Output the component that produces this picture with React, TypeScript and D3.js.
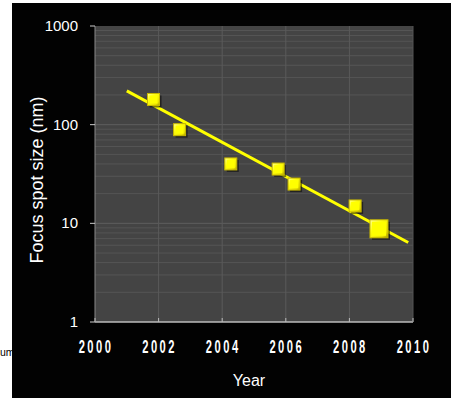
import React from "react";
import * as d3 from "d3";

// measured points (year, focus spot size in nm)
const years = [2001.84, 2002.66, 2004.27, 2005.76, 2006.26, 2008.18, 2008.93];
const spotSizes = [180, 89, 40, 35.5, 25, 15, 8.8];
const markerSizes = [12, 12, 12, 12, 12, 12, 18];

// fitted trend line end points
const trendYears = [2001, 2009.85];
const trendSizes = [220, 6.4];

const xTicks = [2000, 2002, 2004, 2006, 2008, 2010];
const yTicks = [1, 10, 100, 1000];

const W = 451;
const H = 398;

export default function App() {
  const x = d3.scaleLinear().domain([2000, 2010]).range([95, 413]);
  const y = d3.scaleLog().domain([1, 1000]).range([322, 26]);

  const minor: number[] = [];
  [1, 10, 100].forEach((d) => {
    for (let k = 2; k <= 9; k++) minor.push(d * k);
  });

  const line = d3
    .line<number>()
    .x((_, i) => x(trendYears[i]))
    .y((d) => y(d));

  const pts = years.map((yr, i) => ({ yr, v: spotSizes[i], s: markerSizes[i] }));

  return (
    <svg
      width={W}
      height={H}
      style={{ position: "absolute", left: 0, top: 0, background: "#fff" }}
    >
      <defs>
        <linearGradient id="bevel" x1="0" y1="0" x2="1" y2="1">
          <stop offset="0" stopColor="#ffffa0" />
          <stop offset="0.35" stopColor="#ffff10" />
          <stop offset="0.8" stopColor="#e8e000" />
          <stop offset="1" stopColor="#a89a00" />
        </linearGradient>
      </defs>
      <text x={0} y={356} fontFamily="Arial, Liberation Sans" fontSize={10.5} fill="#000">
        um
      </text>
      <rect x={12} y={3} width={W - 12} height={H - 3} fill="#020202" />
      {/* plot area */}
      <rect x={x(2000)} y={y(1000)} width={x(2010) - x(2000)} height={y(1) - y(1000)} fill="#444444" />
      {minor.map((m) => (
        <line key={"m" + m} x1={x(2000)} x2={x(2010)} y1={y(m)} y2={y(m)} stroke="#555555" strokeWidth={1} />
      ))}
      {[10, 100].map((m) => (
        <line key={"M" + m} x1={x(2000)} x2={x(2010)} y1={y(m)} y2={y(m)} stroke="#5e5e5e" strokeWidth={1} />
      ))}
      {xTicks.slice(1, -1).map((t) => (
        <line key={"v" + t} x1={x(t)} x2={x(t)} y1={y(1000)} y2={y(1)} stroke="#5a5a5a" strokeWidth={1} />
      ))}
      {/* axes */}
      <line x1={x(2000)} x2={x(2010)} y1={y(1)} y2={y(1)} stroke="#bbbbbb" strokeWidth={1.5} />
      <line x1={x(2000)} x2={x(2000)} y1={y(1000)} y2={y(1)} stroke="#888888" strokeWidth={1} />
      <line x1={x(2010)} x2={x(2010)} y1={y(1000)} y2={y(1)} stroke="#555555" strokeWidth={1} />
      {xTicks.map((t) => (
        <line key={"xt" + t} x1={x(t)} x2={x(t)} y1={y(1) - 4} y2={y(1)} stroke="#bbbbbb" strokeWidth={1} />
      ))}
      {yTicks.map((t) => (
        <line key={"yt" + t} x1={x(2000) - 5} x2={x(2000)} y1={y(t)} y2={y(t)} stroke="#cccccc" strokeWidth={1} />
      ))}
      {yTicks.map((t) => (
        <text
          key={"yl" + t}
          x={78}
          y={y(t) + 5}
          textAnchor="end"
          fontFamily="Arial, Liberation Sans, sans-serif"
          fontSize={15}
          fill="#fff"
        >
          {t}
        </text>
      ))}
      {xTicks.map((t) => (
        <text
          key={"xl" + t}
          transform={`translate(${x(t) + 1},353) scale(0.62,1)`}
          textAnchor="middle"
          fontFamily="Arial, Liberation Sans, sans-serif"
          fontWeight="bold"
          fontSize={18}
          letterSpacing={4}
          fill="#fff"
        >
          {t}
        </text>
      ))}
      <text x={249} y={386} textAnchor="middle" fontFamily="Arial, Liberation Sans, sans-serif" fontSize={16} fill="#fff">
        Year
      </text>
      <text
        transform="translate(43,180) rotate(-90)"
        textAnchor="middle"
        fontFamily="Arial, Liberation Sans, sans-serif"
        fontSize={18}
        fill="#fff"
      >
        Focus spot size (nm)
      </text>
      {/* trend */}
      <path d={line(trendSizes) || ""} fill="none" stroke="#ffff00" strokeWidth={3} />
      {/* markers */}
      {pts.map((p, i) => (
        <g key={"p" + i} transform={`translate(${x(p.yr)},${y(p.v)})`}>
          <rect x={-p.s / 2 + 2} y={-p.s / 2 + 2} width={p.s} height={p.s} fill="#000" opacity={0.5} />
          <rect x={-p.s / 2} y={-p.s / 2} width={p.s} height={p.s} fill="url(#bevel)" stroke="#c8b800" strokeWidth={1} />
          <rect x={-p.s / 2 + 2} y={-p.s / 2 + 2} width={p.s - 4} height={p.s - 4} fill="#ffff00" />
        </g>
      ))}
    </svg>
  );
}
